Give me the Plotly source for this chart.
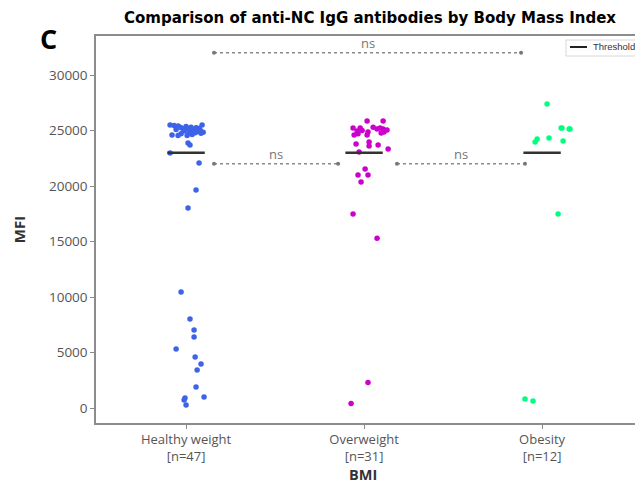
import plotly.graph_objects as go

# Groups and labels
groups = ["Healthy weight", "Overweight", "Obesity"]
group_n = [47, 31, 12]
colors = ["#3D63E8", "#CC00CC", "#00FF7F"]
threshold = 23000

# MFI per participant, with horizontal strip offsets (category units)
healthy_mfi = [25500, 25450, 25400, 25500, 25350, 25300, 25250, 25200, 25200, 25150,
               25100, 25100, 25050, 25000, 25000, 24950, 24950, 24900, 24850, 24800,
               24750, 24700, 24650, 24600, 24550, 24550, 25300, 24850,
               23870, 23690, 22970, 22070, 19640, 18020, 10450, 8020, 7030, 6400,
               5320, 4590, 3960, 3420, 1890, 990, 900, 720, 270]
healthy_dx = [-0.090, -0.067, -0.045, 0.090, 0.000, 0.028, 0.056, -0.022, 0.073, 0.011,
              0.045, -0.056, 0.079, 0.022, 0.062, -0.011, 0.039, 0.067, 0.017, 0.051,
              0.084, -0.028, 0.034, -0.079, 0.006, -0.045, -0.034, 0.096,
              0.011, 0.022, -0.090, 0.073, 0.056, 0.011, -0.028, 0.022, 0.045, 0.045,
              -0.056, 0.051, 0.084, 0.062, 0.056, 0.101, -0.006, -0.011, 0.000]

overweight_mfi = [25860, 25860, 25225, 25225, 24955, 24595, 24700, 24865, 24595, 25135,
                  25225, 25135, 25045, 24865, 24775, 23780, 23960, 23600, 23690, 23330,
                  23060, 21530, 20990, 20990, 20360, 17480, 15300, 2300, 400, 25000, 25300]
overweight_dx = [0.017, 0.107, -0.062, -0.022, -0.039, -0.056, -0.034, 0.022, 0.017, 0.073,
                 0.090, 0.107, 0.129, 0.112, 0.096, -0.045, 0.028, 0.028, 0.079, 0.135,
                 -0.028, 0.006, -0.034, 0.022, -0.017, -0.062, 0.073, 0.022, -0.073, -0.011, 0.051]

obesity_mfi = [27390, 25225, 25225, 25135, 25135, 24235, 23960, 24320, 24050, 17480, 810, 630]
obesity_dx = [0.028, 0.107, 0.112, 0.152, 0.157, -0.028, -0.039, 0.039, 0.118, 0.090, -0.096, -0.051]

# Pairwise comparisons: (start, end, bracket level, label)
bracket_x0 = [0.157, 0.157, 1.185]
bracket_x1 = [1.882, 0.854, 1.904]
bracket_y = [32000, 22000, 22000]
bracket_txt = ["ns", "ns", "ns"]

y_ticks = [0, 5000, 10000, 15000, 20000, 25000, 30000]

W, H = 635, 484
ML, MT, MB = 96, 36, 61
PW, PH = W - ML, H - MT - MB

fig = go.Figure()

for i, (vals, dx) in enumerate([(healthy_mfi, healthy_dx),
                                (overweight_mfi, overweight_dx),
                                (obesity_mfi, obesity_dx)]):
    fig.add_trace(go.Scatter(
        x=[i + d for d in dx], y=vals, mode="markers",
        marker=dict(color=colors[i], size=5.5, line=dict(width=0)),
        showlegend=False, hoverinfo="y"))

# Threshold segments across each strip
tx, ty = [], []
for i in range(len(groups)):
    tx += [i - 0.105, i + 0.105, None]
    ty += [threshold, threshold, None]
fig.add_trace(go.Scatter(x=tx, y=ty, mode="lines", name="Threshold",
                         line=dict(color="#333333", width=2.5), showlegend=False))

# Significance brackets
for x0, x1, yb, t in zip(bracket_x0, bracket_x1, bracket_y, bracket_txt):
    fig.add_trace(go.Scatter(x=[x0, x1], y=[yb, yb], mode="lines+markers",
                             line=dict(color="#8a8a8a", width=1.6, dash="dot"),
                             marker=dict(color="#777777", size=4),
                             showlegend=False, hoverinfo="skip"))
    fig.add_annotation(x=(x0 + x1) / 2, y=yb, text=t, showarrow=False,
                       yanchor="bottom", yshift=-1,
                       font=dict(family="Open Sans", size=13, color="#777777"))

tick_text = [f"{g}<br>[n={n}]" for g, n in zip(groups, group_n)]


def px_x(p):
    return (p - ML) / PW


def px_y(p):
    return (H - MB - p) / PH


# Legend box for the threshold line
fig.add_shape(type="rect", xref="paper", yref="paper",
              x0=px_x(566), x1=px_x(660), y0=px_y(56), y1=px_y(40),
              line=dict(color="#d8d8d8", width=1), fillcolor="white", layer="above")
fig.add_shape(type="line", xref="paper", yref="paper",
              x0=px_x(570), x1=px_x(587), y0=px_y(47), y1=px_y(47),
              line=dict(color="#222222", width=2), layer="above")
fig.add_annotation(text="Threshold", xref="paper", yref="paper",
                   x=px_x(591), y=px_y(47), xanchor="left", yanchor="middle",
                   showarrow=False,
                   font=dict(family="Liberation Sans", size=9.5, color="#333333"))

# x-axis title placed under the two-line category labels
fig.add_annotation(text="<b>BMI</b>", xref="paper", yref="paper",
                   x=px_x(363), y=px_y(474), xanchor="center", yanchor="middle",
                   showarrow=False,
                   font=dict(family="Open Sans", size=14.5, color="#333333"))

fig.update_layout(
    width=W, height=H,
    margin=dict(l=ML, r=0, t=MT, b=MB),
    plot_bgcolor="white", paper_bgcolor="white",
    showlegend=False,
    title=dict(text="<b>Comparison of anti-NC IgG antibodies by Body Mass Index</b>",
               x=(370 / W), xanchor="center", y=1 - 18 / H, yanchor="middle",
               font=dict(family="DejaVu Sans", size=15, color="black")),
    xaxis=dict(range=[-0.506, 2.522], tickvals=[0, 1, 2], ticktext=tick_text,
               showgrid=False, zeroline=False, showline=True, linecolor="#8c8c8c",
               linewidth=1.5, mirror=True, ticks="outside", ticklen=4, tickcolor="#8c8c8c",
               tickfont=dict(family="Open Sans", size=13, color="#555555")),
    yaxis=dict(range=[-1351, 33514], tickvals=y_ticks, tickformat="d",
               showgrid=False, zeroline=False, showline=True, linecolor="#8c8c8c",
               linewidth=1.5, mirror=False, ticks="outside", ticklen=4, tickcolor="#8c8c8c",
               tickfont=dict(family="Open Sans", size=13.5, color="#555555"),
               title=dict(text="<b>MFI</b>", standoff=20,
                          font=dict(family="Open Sans", size=15, color="#333333"))),
    font=dict(family="Open Sans"),
)

fig.add_annotation(text="<b>C</b>", xref="paper", yref="paper", x=px_x(48), y=px_y(38),
                   xanchor="center", yanchor="middle", showarrow=False,
                   font=dict(family="Open Sans", size=27, color="black"))

fig.write_html("out.html")
